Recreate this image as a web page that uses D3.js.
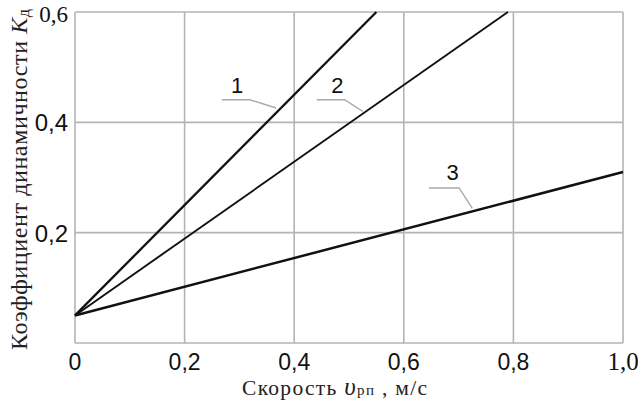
<!DOCTYPE html>
<html><head><meta charset="utf-8">
<script src="https://cdn.jsdelivr.net/npm/d3@7"></script>
<style>html,body{margin:0;padding:0;background:#fff;}</style>
</head><body>
<svg id="c" width="638" height="401"></svg>
<script>
// Data
const xTicks = [0, 0.2, 0.4, 0.6, 0.8, 1.0];
const xTickLabels = ["0", "0,2", "0,4", "0,6", "0,8", "1,0"];
const yTicks = [0.2, 0.4, 0.6];
const yTickLabels = ["0,2", "0,4", "0,6"];
const seriesNames = ["1", "2", "3"];
const series1 = [[0, 0.05], [0.55, 0.60]];
const series2 = [[0, 0.05], [0.79, 0.60]];
const series3 = [[0, 0.05], [1.0, 0.31]];
// label annotations: text baseline position, leader start, elbow, end (data coords)
const labelPos = [[0.296, 0.453], [0.479, 0.453], [0.689, 0.296]];
const leaderStart = [[0.268, 0.441], [0.441, 0.441], [0.646, 0.281]];
const leaderElbow = [[0.319, 0.441], [0.492, 0.441], [0.701, 0.281]];
const leaderEnd = [[0.367, 0.426], [0.525, 0.420], [0.725, 0.244]];

const svg = d3.select("#c");
const x = d3.scaleLinear().domain([0, 1]).range([75, 623]);
const y = d3.scaleLinear().domain([0, 0.6]).range([343, 12]);
const grid = "#b4b4b4";

// gridlines
svg.append("g").selectAll("line").data(xTicks).join("line")
  .attr("x1", d => x(d)).attr("x2", d => x(d))
  .attr("y1", y(0)).attr("y2", y(0.6))
  .attr("stroke", grid).attr("stroke-width", 1.6);
svg.append("g").selectAll("line").data([0].concat(yTicks)).join("line")
  .attr("x1", x(0)).attr("x2", x(1))
  .attr("y1", d => y(d)).attr("y2", d => y(d))
  .attr("stroke", grid).attr("stroke-width", 1.6);

// tick labels
svg.append("g").selectAll("text").data(xTicks).join("text")
  .attr("x", d => x(d)).attr("y", 370)
  .attr("text-anchor", "middle")
  .attr("font-family", (d, i) => i === 5 ? "Liberation Serif" : "Liberation Sans")
  .attr("font-size", (d, i) => i === 5 ? 25 : 23).attr("fill", "#111")
  .text((d, i) => xTickLabels[i]);
svg.append("g").selectAll("text").data(yTicks).join("text")
  .attr("x", 68).attr("y", (d, i) => y(d) + (i === 2 ? 10 : 9))
  .attr("text-anchor", "end")
  .attr("font-family", (d, i) => i === 2 ? "Liberation Serif" : "Liberation Sans")
  .attr("font-size", (d, i) => i === 2 ? 23 : 24).attr("fill", "#111")
  .text((d, i) => yTickLabels[i]);

// lines
const line = d3.line().x(d => x(d[0])).y(d => y(d[1]));
const allSeries = [series1, series2, series3];
const widths = [2.3, 1.9, 2.5];
svg.append("g").selectAll("path").data(allSeries).join("path")
  .attr("d", line).attr("fill", "none")
  .attr("stroke", "#111").attr("stroke-width", (d, i) => widths[i]);

// leaders
svg.append("g").selectAll("polyline").data(seriesNames).join("polyline")
  .attr("points", (d, i) => [leaderStart[i], leaderElbow[i], leaderEnd[i]].map(p => x(p[0]) + "," + y(p[1])).join(" "))
  .attr("fill", "none").attr("stroke", "#aaa").attr("stroke-width", 1.4);
svg.append("g").selectAll("text").data(seriesNames).join("text")
  .attr("x", (d, i) => x(labelPos[i][0])).attr("y", (d, i) => y(labelPos[i][1]))
  .attr("text-anchor", "middle")
  .attr("font-family", "Liberation Sans").attr("font-size", 22).attr("fill", "#111")
  .text(d => d);

// axis titles
const xt = svg.append("text").attr("x", 242).attr("y", 395)
  .attr("text-anchor", "start").attr("font-family", "Liberation Serif")
  .attr("font-size", 21.5).attr("fill", "#222")
  .attr("textLength", 185).attr("lengthAdjust", "spacing");
xt.append("tspan").text("Скорость ");
xt.append("tspan").attr("font-style", "italic").attr("font-size", 25).text("υ");
xt.append("tspan").attr("font-size", 15).text("рп");
xt.append("tspan").text(" , м/с");

const yt = svg.append("text").attr("transform", "translate(27,350) rotate(-90)")
  .attr("text-anchor", "start").attr("font-family", "Liberation Serif")
  .attr("font-size", 24).attr("fill", "#222")
  .attr("textLength", 341).attr("lengthAdjust", "spacing");
yt.append("tspan").text("Коэффициент динамичности ");
yt.append("tspan").attr("font-style", "italic").text("K");
yt.append("tspan").attr("font-size", 16).attr("dy", 2).text("д");
</script>
</body></html>
